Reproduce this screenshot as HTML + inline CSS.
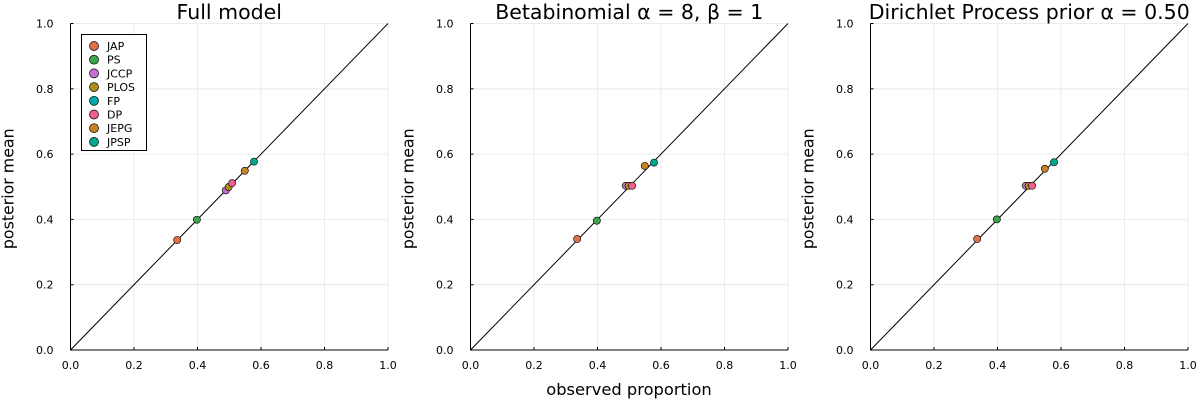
<!DOCTYPE html>
<html><head><meta charset="utf-8">
<style>
html,body{margin:0;padding:0;background:#fff;}
svg{display:block;font-family:"DejaVu Sans","Liberation Sans",sans-serif;}
</style></head>
<body>
<svg id="chart" width="1200" height="400" viewBox="0 0 1200 400" xmlns="http://www.w3.org/2000/svg"></svg>
<script>
const journals = ["JAP","PS","JCCP","PLOS","FP","DP","JEPG","JPSP"];
const colors = ["#e26f46","#3da44d","#c271d2","#ac8d18","#00a9ad","#ed5e93","#c68225","#00a98d"];
const observed = [0.336,0.398,0.489,0.498,null,0.509,0.549,0.578];
const meanFull = [0.337,0.399,0.489,0.499,null,0.511,0.549,0.577];
const meanBeta = [0.340,0.396,0.503,0.503,null,0.503,0.564,0.574];
const meanDP = [0.340,0.400,0.503,0.503,null,0.503,0.555,0.575];
const ticks = [0,0.2,0.4,0.6,0.8,1.0];
const tickLabels = ["0.0","0.2","0.4","0.6","0.8","1.0"];
const titles = ["Full model","Betabinomial α = 8, β = 1","Dirichlet Process prior α = 0.50"];
const panelSeries = [meanFull, meanBeta, meanDP];
const panelLeft = [70.5, 470.5, 870.5];

const NS="http://www.w3.org/2000/svg";
const svg=document.getElementById('chart');
function mk(tag, attrs, parent){const e=document.createElementNS(NS,tag);for(const k in attrs)e.setAttribute(k,attrs[k]);(parent||svg).appendChild(e);return e;}
const W=317.5, plotTop=23.5, plotBottom=350;
panelSeries.forEach((series,p)=>{
  const x0=panelLeft[p];
  const sx=v=>x0+v*W;
  const sy=v=>plotBottom-v*(plotBottom-plotTop);
  const g=mk('g',{});
  
  
  ticks.forEach((t,i)=>{
    if(i>0){
      const gv=mk('line',{x1:sx(t),x2:sx(t),y1:plotTop,y2:plotBottom,stroke:'#e6e6e6','stroke-width':0.8},g);
      
      
      const gh=mk('line',{x1:x0,x2:x0+W,y1:sy(t),y2:sy(t),stroke:'#e6e6e6','stroke-width':0.8},g);
      
      
    }
    const xt=mk('line',{x1:sx(t),x2:sx(t),y1:plotBottom,y2:plotBottom-3,stroke:'#000','stroke-width':1},g);
    
    
    const yt=mk('line',{x1:x0,x2:x0+3,y1:sy(t),y2:sy(t),stroke:'#000','stroke-width':1},g);
    
    
    const xl=mk('text',{x:sx(t),y:369,'font-size':11,'text-anchor':'middle',fill:'#000'},g);
    xl.textContent=tickLabels[i];
    
    
    const yl=mk('text',{x:x0-17,y:sy(t)+4,'font-size':11,'text-anchor':'end',fill:'#000'},g);
    yl.textContent=tickLabels[i];
    
    
  });
  const ax=mk('path',{d:`M${x0},${plotTop}V${plotBottom}H${x0+W}`,fill:'none',stroke:'#000','stroke-width':1},g);
  
  
  const diag=mk('line',{x1:sx(0),y1:sy(0),x2:sx(1),y2:sy(1),stroke:'#000','stroke-width':1},g);
  
  
  journals.forEach((j,i)=>{
    if(observed[i]==null||series[i]==null)return;
    const c=mk('circle',{cx:sx(observed[i]),cy:sy(series[i]),r:3.6,fill:colors[i],stroke:'#000','stroke-width':0.6},g);
    
    
  });
  const tt=mk('text',{x:x0+W/2,y:19,'font-size':20.5,'text-anchor':'middle',fill:'#000'},g);
  tt.textContent=titles[p];
  
  
  const ylab=mk('text',{x:0,y:0,'font-size':15.8,'text-anchor':'middle',fill:'#000',transform:`translate(${x0-57},${(plotTop+plotBottom)/2+2}) rotate(-90)`},g);
  ylab.textContent='posterior mean';
  
  
});
const xlab=mk('text',{x:629,y:395,'font-size':16.3,'text-anchor':'middle',fill:'#000'});
xlab.textContent='observed proportion';


const lg=mk('g',{});


const lb=mk('rect',{x:81.5,y:34.5,width:65,height:116,fill:'#fff',stroke:'#000','stroke-width':1},lg);


journals.forEach((j,i)=>{
  const y=46+i*13.7;
  const m=mk('circle',{cx:94,cy:y,r:4.5,fill:colors[i],stroke:'#000','stroke-width':0.7},lg);
  
  
  const t=mk('text',{x:107,y:y+4,'font-size':11,fill:'#000'},lg);
  t.textContent=j;
  
  
});
</script>
</body></html>
